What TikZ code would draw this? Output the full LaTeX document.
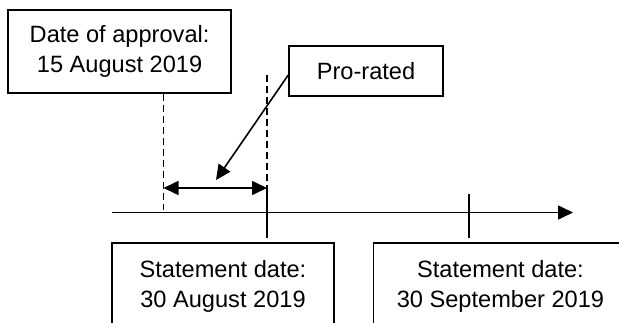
\documentclass[tikz,border=0pt]{standalone}
\usepackage{fontspec}
\setmainfont{Liberation Sans}
\usetikzlibrary{positioning,arrows.meta}
\tikzset{
	fecha/.style={rectangle, draw, line width=1.5pt, inner sep=0pt,
		font=\fontsize{23.6}{30}\selectfont, align=center,
		minimum width=222pt, minimum height=83pt},
	nota/.style={rectangle, draw, line width=1.5pt, inner sep=0pt,
		font=\fontsize{23.6}{30}\selectfont,
		minimum width=154pt, minimum height=50pt},
	linea/.style={line width=1.6pt},
	guia/.style={line width=1.6pt, dash pattern=on 7pt off 4pt},
	punta/.style={line width=1.6pt, -{Triangle[length=15pt,width=14pt]}},
	dospuntas/.style={line width=1.6pt,
		{Triangle[length=15pt,width=14pt]}-{Triangle[length=15pt,width=14pt]}}
}

\begin{document}
\begin{tikzpicture}[x=1pt, y=-1pt, node distance=38pt]
			\useasboundingbox (0,0) rectangle (619,323);
			\clip (0,0) rectangle (619,323);
			
			\node[fecha, minimum width=223pt] (aprob) at (119.6,51.3) {Date of approval:\\15 August 2019};
			\node[nota] (prorata) at (366,71) {Pro-rated};
			
			\node[fecha, minimum height=86pt] (estA) at (223,286) {Statement date:\\30 August 2019};
			\node[fecha, minimum width=254pt, minimum height=86pt, right=of estA] (estB) {Statement date:\\30 September 2019};
			
			% eje del tiempo
			\coordinate (ini) at (112,212.5);
			\coordinate (fin) at (573,212.5);
			\draw[punta] (ini) -- (fin);
			
			% marcas
			\coordinate (dA) at (163.5,210);
			\coordinate (corteA) at (267,188);
			\coordinate (altoA) at (267,75);
			\coordinate (corteB) at (469,194);
			\draw[guia] (aprob.south -| dA) -- (dA);
			\draw[guia] (altoA) -- (corteA);
			\draw[linea] (corteA) -- (267,238);
			\draw[linea] (corteB) -- (469,238);
			
			% periodo prorrateado
			\draw[dospuntas] (dA |- corteA) -- (corteA);
			\coordinate (llega) at (216,180);
			\draw[punta] ([yshift=-4pt]prorata.west) -- (llega);
		\end{tikzpicture}
\end{document}
